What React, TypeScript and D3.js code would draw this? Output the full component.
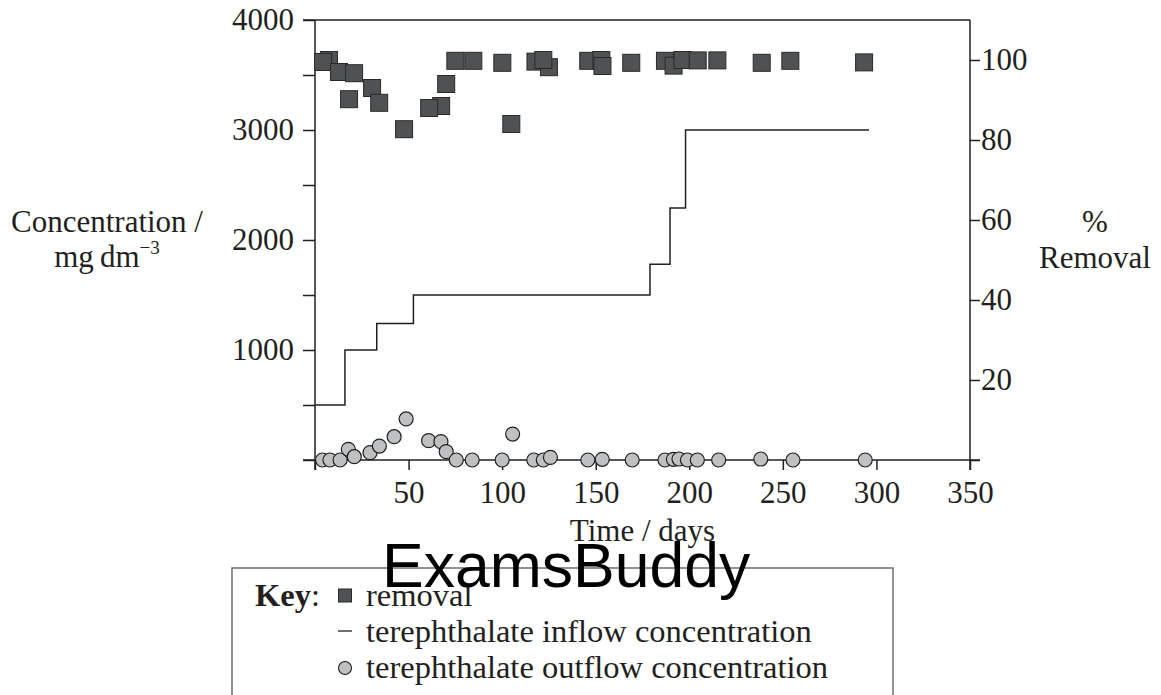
import React, { useEffect, useRef } from 'react';
import * as d3 from 'd3';

// removal (%), right axis
const removalDays = [7.5, 4.3, 12.8, 20.9, 18.2, 30.5, 34.3, 47.6, 67.4, 61, 70.1, 75, 84.6, 100.1, 104.9, 117.8, 125, 122, 146, 153, 153.6, 169, 187, 191.6, 196.4, 204.5, 215, 238.7, 254, 293.4];
const removalPct = [100, 99.5, 97, 96.7, 90.2, 93, 89.3, 82.7, 88.5, 88, 94, 99.8, 99.8, 99.3, 84, 99.6, 98.2, 100, 99.8, 100, 98.5, 99.3, 99.8, 98.6, 100, 99.9, 99.9, 99.3, 99.8, 99.4];

// terephthalate inflow concentration (step line), left axis
const inflowDays = [0, 16, 33, 52.6, 179, 189.7, 198, 296];
const inflowConc = [500, 1000, 1240, 1500, 1780, 2290, 3000, 3000];

// terephthalate outflow concentration, left axis
const outflowDays = [4, 8, 13.4, 17.8, 21, 29.4, 34.4, 42.3, 48.7, 60.7, 67.3, 70.1, 75.5, 84, 100, 105.6, 116.9, 122, 125.8, 145.8, 153.5, 169.5, 187, 191.5, 194.5, 199, 204.3, 215.7, 238.2, 255.4, 294];
const outflowConc = [0, 0, 0, 97, 30, 67, 127, 212, 373, 176, 167, 76, 0, 0, 0, 236, 0, 0, 24, 0, 6, 0, 0, 6, 9, 0, 0, 0, 9, 0, 0];

const xTicks = [0, 50, 100, 150, 200, 250, 300, 350];
const leftTicks = [0, 500, 1000, 1500, 2000, 2500, 3000, 3500, 4000];
const rightTicks = [0, 20, 40, 60, 80, 100];

const keyLabels = ['removal', 'terephthalate inflow concentration', 'terephthalate outflow concentration'];

const INK = '#231f20';
const SERIF = '"Liberation Serif", "Times New Roman", serif';

const App: React.FC = () => {
  const ref = useRef<SVGSVGElement>(null);

  useEffect(() => {
    document.body.style.margin = '0';
    if (!ref.current) return;
    const svg = d3.select(ref.current);
    svg.selectAll('*').remove();

    const left = 315, right = 970, top = 20, bottom = 460;

    const x = d3.scaleLinear().domain([0, 350]).range([left, right]);
    const yL = d3.scaleLinear().domain([0, 4000]).range([bottom, top]);
    const yR = d3.scaleLinear().domain([0, 110]).range([bottom, top]);

    const g = svg.append('g');

    // frame
    const frame = g.append('g').attr('stroke', INK).attr('stroke-width', 1.5).attr('fill', 'none');
    frame.append('line').attr('x1', left).attr('x2', left).attr('y1', top).attr('y2', bottom + 10);
    frame.append('line').attr('x1', right).attr('x2', right).attr('y1', top).attr('y2', bottom + 10);
    frame.append('line').attr('x1', left - 12).attr('x2', right).attr('y1', top).attr('y2', top);
    frame.append('line').attr('x1', left - 12).attr('x2', right + 10).attr('y1', bottom).attr('y2', bottom);

    const styleAxis = (sel: d3.Selection<SVGGElement, unknown, null, undefined>) => {
      sel.select('.domain').remove();
      sel.attr('font-family', SERIF).attr('font-size', 31);
      sel.selectAll('line').attr('stroke', INK).attr('stroke-width', 1.5);
      sel.selectAll('text').attr('fill', INK);
    };

    g.append('g')
      .attr('transform', `translate(0,${bottom})`)
      .call(d3.axisBottom(x).tickValues(xTicks).tickSize(10).tickPadding(11)
        .tickFormat(d => (+d === 0 ? '' : String(d))))
      .call(styleAxis);

    g.append('g')
      .attr('transform', `translate(${left},0)`)
      .call(d3.axisLeft(yL).tickValues(leftTicks).tickSize(12).tickPadding(9)
        .tickFormat(d => (+d > 0 && +d % 1000 === 0 ? String(d) : '')))
      .call(styleAxis);

    g.append('g')
      .attr('transform', `translate(${right},0)`)
      .call(d3.axisRight(yR).tickValues(rightTicks).tickSize(10).tickPadding(1)
        .tickFormat(d => (+d === 0 ? '' : String(d))))
      .call(styleAxis);

    // inflow step line
    const inflow = inflowDays.map((d, i) => [d, inflowConc[i]] as [number, number]);
    const line = d3.line<[number, number]>()
      .x(d => x(d[0]))
      .y(d => yL(d[1]))
      .curve(d3.curveStepAfter);
    g.append('path').attr('d', line(inflow) || '')
      .attr('fill', 'none').attr('stroke', INK).attr('stroke-width', 1.5);

    // outflow circles
    g.append('g').selectAll('circle')
      .data(outflowDays.map((d, i) => ({ d, c: outflowConc[i] })))
      .enter().append('circle')
      .attr('cx', p => x(p.d))
      .attr('cy', p => yL(p.c))
      .attr('r', 7)
      .attr('fill', '#bfc0c2')
      .attr('stroke', INK)
      .attr('stroke-width', 1.2);

    // removal squares
    const s = 17;
    g.append('g').selectAll('rect')
      .data(removalDays.map((d, i) => ({ d, p: removalPct[i] })))
      .enter().append('rect')
      .attr('x', p => x(p.d) - s / 2)
      .attr('y', p => yR(p.p) - s / 2)
      .attr('width', s)
      .attr('height', s)
      .attr('fill', '#505152')
      .attr('stroke', '#2a2a2a')
      .attr('stroke-width', 1);

    // axis titles
    const t = g.append('g').attr('font-family', SERIF).attr('font-size', 31).attr('fill', INK);
    t.append('text').attr('x', 107).attr('y', 232).attr('text-anchor', 'middle').text('Concentration /');
    const mg = t.append('text').attr('x', 107).attr('y', 267).attr('text-anchor', 'middle');
    mg.append('tspan').text('mg\u2009dm');
    mg.append('tspan').attr('font-size', 19).attr('dy', -13).text('\u22123');
    t.append('text').attr('x', 1095).attr('y', 232).attr('text-anchor', 'middle').text('%');
    t.append('text').attr('x', 1095).attr('y', 268).attr('text-anchor', 'middle').text('Removal');
    t.append('text').attr('x', (left + right) / 2).attr('y', 541).attr('text-anchor', 'middle').text('Time / days');

    // key box
    const kx0 = 232, kx1 = 893, ky0 = 568;
    g.append('path')
      .attr('d', `M${kx0},695V${ky0}H${kx1}V695`)
      .attr('fill', 'none').attr('stroke', '#6d6e70').attr('stroke-width', 1.5);

    const key = g.append('g').attr('font-family', SERIF).attr('font-size', 32.5).attr('fill', INK);
    const kt = key.append('text').attr('x', 255).attr('y', 606);
    kt.append('tspan').attr('font-weight', 'bold').text('Key');
    kt.append('tspan').text(':');
    const rowY = [606, 642, 678];
    const mx = 345, tx = 366;
    keyLabels.forEach((lab, i) => {
      key.append('text').attr('x', tx).attr('y', rowY[i]).text(lab);
    });
    key.append('rect').attr('x', mx - 6.5).attr('y', rowY[0] - 17).attr('width', 13).attr('height', 13)
      .attr('fill', '#505152').attr('stroke', '#2a2a2a').attr('stroke-width', 1);
    key.append('line').attr('x1', mx - 7).attr('x2', mx + 7).attr('y1', rowY[1] - 11).attr('y2', rowY[1] - 11)
      .attr('stroke', INK).attr('stroke-width', 1.3);
    key.append('circle').attr('cx', mx).attr('cy', rowY[2] - 10).attr('r', 6.5)
      .attr('fill', '#bfc0c2').attr('stroke', INK).attr('stroke-width', 1.1);

    // watermark
    g.append('text').attr('x', 382).attr('y', 587)
      .attr('font-family', '"Liberation Sans", Arial, sans-serif').attr('font-size', 62.5)
      .attr('fill', '#000').text('ExamsBuddy');
  }, []);

  return <svg ref={ref} width={1161} height={695} style={{ display: 'block', background: '#fff' }} />;
};

export default App;
